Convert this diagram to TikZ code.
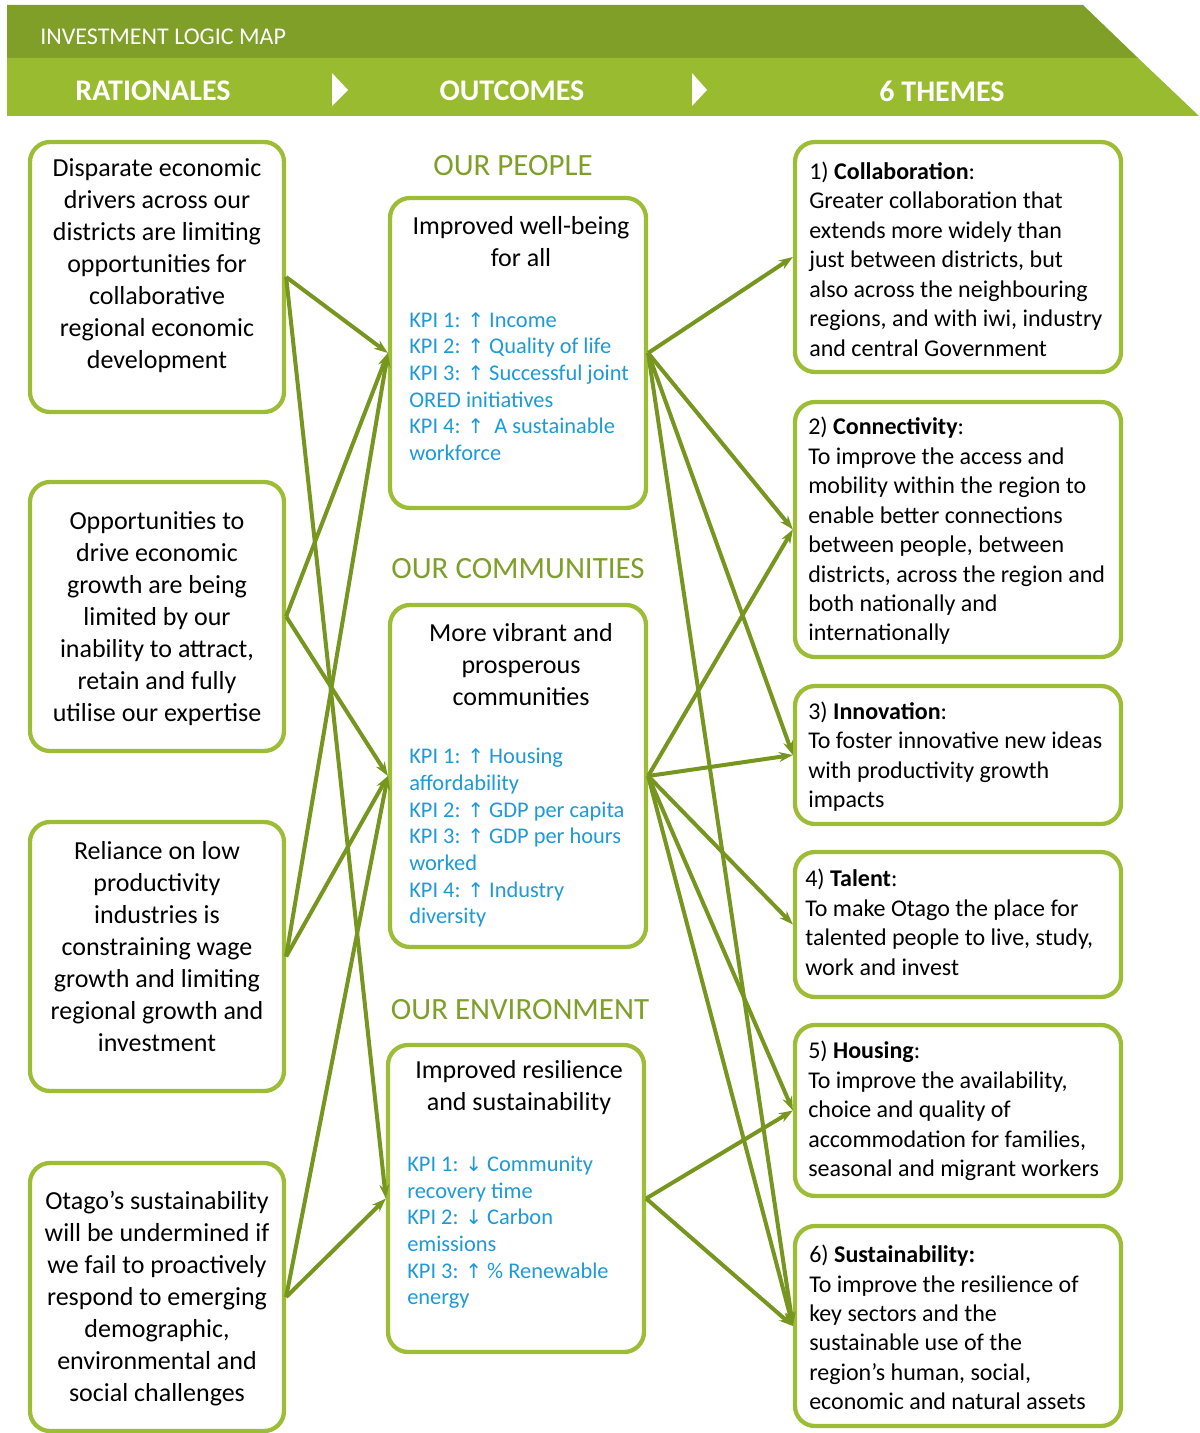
\documentclass[tikz,border=0pt]{standalone}
\usepackage{fontspec}
\setmainfont{Carlito}
\newfontfamily\arrowfont[Scale=0.9]{DejaVu Sans}
\usetikzlibrary{arrows.meta}
\definecolor{hdrdark}{HTML}{7F9F29}
\definecolor{hdrlight}{HTML}{98BB2F}
\definecolor{boxgreen}{HTML}{9CBD35}
\definecolor{linkgreen}{HTML}{76961F}
\definecolor{kpiblue}{HTML}{1E9AD6}
\definecolor{sectgreen}{HTML}{7F9F2B}
\newcommand{\kpiup}{{\arrowfont\char"2191}}
\newcommand{\kpidown}{{\arrowfont\char"2193}}
\begin{document}
\begin{tikzpicture}[x=0.75pt,y=-0.75pt,
  gbox/.style={draw=boxgreen, line width=3.2pt, rounded corners=15pt, inner sep=0pt, fill=white},
  rbox/.style={gbox, minimum width=190.5pt},
  obox/.style={gbox, minimum width=192pt},
  tbox/.style={gbox, minimum width=244.5pt},
  rtext/.style={align=center, inner sep=0pt, font=\fontsize{19.5}{24}\selectfont},
  otitle/.style={align=center, inner sep=0pt, font=\fontsize{19.5}{24}\selectfont},
  kpi/.style={align=left, inner sep=0pt, anchor=west, text=kpiblue, font=\fontsize{16.8}{20}\selectfont},
  ttext/.style={align=left, inner sep=0pt, anchor=west, font=\fontsize{18}{22.1}\selectfont},
  sect/.style={inner sep=0pt, text=sectgreen, font=\fontsize{23.2}{27}\selectfont},
  hdr/.style={inner sep=0pt, text=white, font=\fontsize{22.5}{27}\selectfont\bfseries},
  link/.style={draw=linkgreen, line width=3pt, -{Stealth[length=10.5pt,width=7.5pt]}}
]
\useasboundingbox (0,0) rectangle (1199,1433);

% header bands
\fill[hdrdark] (7,5) -- (1083,5) -- (1138,58) -- (7,58) -- cycle;
\fill[hdrlight] (7,58) -- (1138,58) -- (1199,116) -- (7,116) -- cycle;
\fill[white] (332,73) -- (348,90) -- (332,106) -- cycle;
\fill[white] (692,73) -- (707,90) -- (692,106) -- cycle;
\node[inner sep=0pt, anchor=west, text=white, font=\fontsize{18}{21}\selectfont] (maptitle) at (40,37) {INVESTMENT LOGIC MAP};
\node[hdr] (hrat) at (153,91) {RATIONALES};
\node[hdr] (hout) at (512,91) {OUTCOMES};
\node[hdr] (hthm) at (942,91) {6 THEMES};

% rationale boxes
\node[rbox, minimum height=202.5pt] (r1) at (157,277) {};
\node[rbox, minimum height=201.75pt] (r2) at (157,616.5) {};
\node[rbox, minimum height=201.75pt] (r3) at (157,956.5) {};
\node[rbox, minimum height=201pt] (r4) at (157,1297) {};
\node[rtext] (r1t) at (157,266) {Disparate economic\\drivers across our\\districts are limiting\\opportunities for\\collaborative\\regional economic\\development};
\node[rtext] (r2t) at (157,619) {Opportunities to\\drive economic\\growth are being\\limited by our\\inability to attract,\\retain and fully\\utilise our expertise};
\node[rtext] (r3t) at (157,946.5) {Reliance on low\\productivity\\industries is\\constraining wage\\growth and limiting\\regional growth and\\investment};
\node[rtext] (r4t) at (157,1298.5) {Otago’s sustainability\\will be undermined if\\we fail to proactively\\respond to emerging\\demographic,\\environmental and\\social challenges};

% outcome sections
\node[sect] (s1) at (513,166) {OUR PEOPLE};
\node[sect] (s2) at (518,569) {OUR COMMUNITIES};
\node[sect] (s3) at (520,1010) {OUR ENVIRONMENT};

\node[obox, minimum height=232.5pt] (o1) at (518,353) {};
\node[obox, minimum height=256.5pt] (o2) at (518,776) {};
\node[obox, minimum height=230.25pt] (o3) at (516,1198.5) {};

\node[otitle] (o1t) at (521,242) {Improved well-being\\for all};
\node[otitle] (o2t) at (521,664.5) {More vibrant and\\prosperous\\communities};
\node[otitle] (o3t) at (519,1088) {Improved resilience\\and sustainability};

\node[kpi] (o1k) at (409,386.5) {KPI 1: \kpiup{} Income\\KPI 2: \kpiup{} Quality of life\\KPI 3: \kpiup{} Successful joint\\ORED initiatives\\KPI 4: \kpiup{}\ \ A sustainable\\workforce};
\node[kpi] (o2k) at (409,838) {KPI 1: \kpiup{} Housing\\affordability\\KPI 2: \kpiup{} GDP per capita\\KPI 3: \kpiup{} GDP per hours\\worked\\KPI 4: \kpiup{} Industry\\diversity};
\node[kpi] (o3k) at (407,1232.5) {KPI 1: \kpidown{} Community\\recovery time\\KPI 2: \kpidown{} Carbon\\emissions\\KPI 3: \kpiup{} \% Renewable\\energy};

% theme boxes
\node[tbox, minimum height=172.5pt] (t1) at (958,257) {};
\node[tbox, minimum height=191.25pt] (t2) at (958,529.5) {};
\node[tbox, minimum height=103.5pt] (t3) at (958,755) {};
\node[tbox, minimum height=108.75pt] (t4) at (958,924.5) {};
\node[tbox, minimum height=128.25pt] (t5) at (958,1110.5) {};
\node[tbox, minimum height=150pt] (t6) at (958,1326) {};

\node[ttext] (t1t) at (809,259) {1) \textbf{Collaboration}:\\Greater collaboration that\\extends more widely than\\just between districts, but\\also across the neighbouring\\regions, and with iwi, industry\\and central Government};
\node[ttext] (t2t) at (808,531) {2) \textbf{Connectivity}:\\To improve the access and\\mobility within the region to\\enable better connections\\between people, between\\districts, across the region and\\both nationally and\\internationally};
\node[ttext] (t3t) at (808,756.5) {3) \textbf{Innovation}:\\To foster innovative new ideas\\with productivity growth\\impacts};
\node[ttext] (t4t) at (805,922.5) {4) \textbf{Talent}:\\To make Otago the place for\\talented people to live, study,\\work and invest};
\node[ttext] (t5t) at (808,1111) {5) \textbf{Housing}:\\To improve the availability,\\choice and quality of\\accommodation for families,\\seasonal and migrant workers};
\node[ttext] (t6t) at (809,1327.5) {6) \textbf{Sustainability:}\\To improve the resilience of\\key sectors and the\\sustainable use of the\\region’s human, social,\\economic and natural assets};

% connectors: rationales -> outcomes
\draw[link] (r1.east) -- (o1.west);
\draw[link] (r1.east) -- (o3.west);
\draw[link] (r2.east) -- (o1.west);
\draw[link] (r2.east) -- (o2.west);
\draw[link] (r3.east) -- (o1.west);
\draw[link] (r3.east) -- (o2.west);
\draw[link] (r4.east) -- (o2.west);
\draw[link] (r4.east) -- (o3.west);

% connectors: outcomes -> themes
\draw[link] (o1.east) -- (t1.west);
\draw[link] (o1.east) -- (t2.west);
\draw[link] (o1.east) -- (t3.west);
\draw[link] (o1.east) -- (t6.west);
\draw[link] (o2.east) -- (t2.west);
\draw[link] (o2.east) -- (t3.west);
\draw[link] (o2.east) -- (t4.west);
\draw[link] (o2.east) -- (t5.west);
\draw[link] (o2.east) -- (t6.west);
\draw[link] (o3.east) -- (t5.west);
\draw[link] (o3.east) -- (t6.west);
\end{tikzpicture}
\end{document}
